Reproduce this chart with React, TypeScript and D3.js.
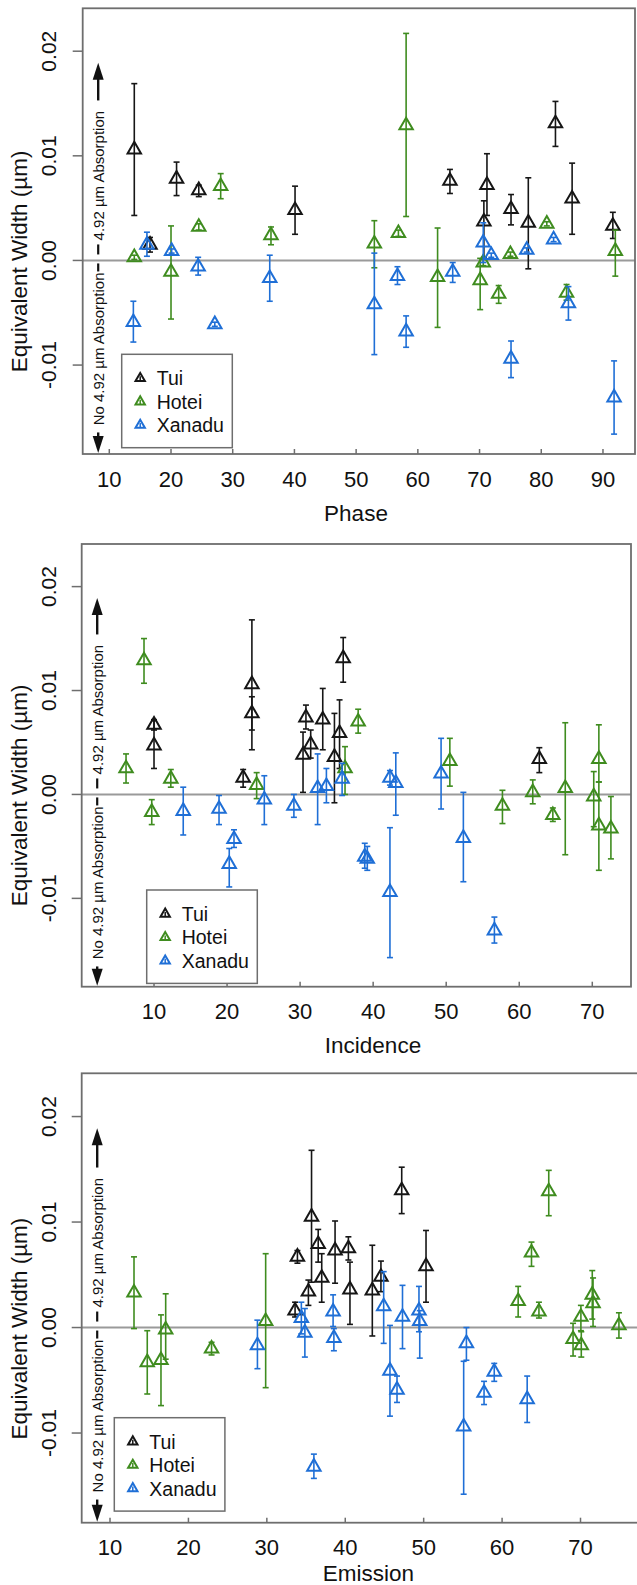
import React from "react"
import * as d3 from "d3"

// [x, equivalent width, lower error, upper error]
type Pt = [number, number, number, number]

const seriesNames = ["Tui", "Hotei", "Xanadu"]
const seriesColors = ["#161616", "#3f8c1f", "#1f6fd6"]

const yTicks = [-0.01, 0, 0.01, 0.02]
const yTickLabels = ["-0.01", "0.00", "0.01", "0.02"]
const phaseTicks = [10, 20, 30, 40, 50, 60, 70, 80, 90]
const incidenceTicks = [10, 20, 30, 40, 50, 60, 70]
const emissionTicks = [10, 20, 30, 40, 50, 60, 70]

const phaseTui: Pt[] = [
  [14.05, 0.0106, 0.0043, 0.0169], [16.6, 0.0015, 0.0008, 0.0022], [20.9, 0.0078, 0.0062, 0.0094],
  [24.5, 0.0067, 0.0061, 0.0072], [40.1, 0.0048, 0.0025, 0.0071], [65.2, 0.0076, 0.0064, 0.0087],
  [70.7, 0.0037, 0.0003, 0.0057], [71.2, 0.0072, 0.0043, 0.0102], [75.1, 0.0049, 0.0034, 0.0063],
  [77.9, 0.0036, -0.0008, 0.0079], [82.3, 0.0131, 0.0109, 0.0152], [85.0, 0.0059, 0.0025, 0.0093],
  [91.6, 0.0033, 0.0021, 0.0046],
]
const phaseHotei: Pt[] = [
  [14.05, 0.0003, 0.0001, 0.0005], [20.0, -0.0011, -0.0056, 0.0033], [24.5, 0.0032, 0.0029, 0.0035],
  [28.05, 0.0071, 0.0059, 0.0083], [36.2, 0.0024, 0.0015, 0.0032], [52.95, 0.0016, -0.0007, 0.0038],
  [56.85, 0.0026, 0.0023, 0.0029], [58.1, 0.0129, 0.0042, 0.0217], [63.2, -0.0016, -0.0064, 0.0031],
  [70.1, -0.0019, -0.0047, 0.0002], [70.6, -0.0002, -0.0005, 0.0001], [73.1, -0.0032, -0.0041, -0.0024],
  [75.0, 0.0006, 0.0004, 0.0008], [80.9, 0.0035, 0.0033, 0.0037], [84.1, -0.0031, -0.0038, -0.0023],
  [92.0, 0.0009, -0.0015, 0.0029],
]
const phaseXanadu: Pt[] = [
  [13.9, -0.0059, -0.0078, -0.0039], [16.1, 0.0015, 0.0004, 0.0027], [20.1, 0.0009, 0.0007, 0.0011],
  [24.4, -0.0006, -0.0014, 0.0003], [27.1, -0.0061, -0.0063, -0.0059], [36.0, -0.0017, -0.0039, 0.0005],
  [52.95, -0.0042, -0.009, 0.0007], [56.7, -0.0015, -0.0023, -0.0006], [58.1, -0.0068, -0.0083, -0.0053],
  [65.65, -0.0011, -0.0021, -0.0002], [70.6, 0.0017, -0.0002, 0.0036], [71.9, 0.0005, 0.0003, 0.0007],
  [75.1, -0.0094, -0.0112, -0.0077], [77.65, 0.001, 0.0008, 0.0012], [82.0, 0.002, 0.0018, 0.0022],
  [84.4, -0.0041, -0.0057, -0.0025], [91.8, -0.0131, -0.0166, -0.0096],
]

const incidenceTui: Pt[] = [
  [10.0, 0.0067, 0.0062, 0.0072], [10.0, 0.0047, 0.0025, 0.0071], [22.2, 0.0016, 0.0007, 0.0024],
  [23.4, 0.0106, 0.0043, 0.0168], [23.4, 0.0078, 0.0062, 0.0094], [30.8, 0.0074, 0.0063, 0.0086],
  [30.4, 0.0038, 0.0002, 0.006], [31.45, 0.0048, 0.0035, 0.0062], [33.1, 0.0072, 0.0043, 0.0102],
  [34.7, 0.0036, -0.0008, 0.0078], [35.4, 0.0059, 0.0025, 0.0091], [35.9, 0.0131, 0.0108, 0.0151],
  [62.75, 0.0034, 0.0021, 0.0045],
]
const incidenceHotei: Pt[] = [
  [6.17, 0.0025, 0.0011, 0.0039], [8.63, 0.0129, 0.0107, 0.015], [9.69, -0.0017, -0.0029, -0.0005],
  [12.3, 0.0015, 0.0007, 0.0024], [24.05, 0.0009, -0.0004, 0.0021], [36.15, 0.0025, 0.0, 0.0046],
  [37.95, 0.007, 0.0059, 0.0082], [50.5, 0.0032, 0.0008, 0.0054], [57.7, -0.0011, -0.0028, 0.0004],
  [61.85, 0.0002, -0.0009, 0.0014], [64.6, -0.002, -0.0026, -0.0013], [66.3, 0.0006, -0.0058, 0.0069],
  [70.2, -0.0002, -0.0031, 0.0022], [70.9, 0.0034, 0.0012, 0.0067], [70.9, -0.003, -0.0073, 0.0012],
  [72.55, -0.0033, -0.0062, -0.0002],
]
const incidenceXanadu: Pt[] = [
  [14.0, -0.0016, -0.0039, 0.0007], [18.9, -0.0014, -0.0029, -0.0001], [20.3, -0.0067, -0.0089, -0.0052],
  [20.95, -0.0043, -0.0051, -0.0034], [25.1, -0.0005, -0.0029, 0.0018], [29.15, -0.0011, -0.0022, 0.0],
  [32.4, 0.0006, -0.0029, 0.0039], [33.6, 0.0008, -0.0008, 0.0025], [35.75, 0.0015, -0.0001, 0.003],
  [38.85, -0.006, -0.0071, -0.0047], [39.2, -0.0062, -0.0073, -0.005], [42.3, 0.0016, 0.0009, 0.0023],
  [42.3, -0.0094, -0.0157, -0.0032], [43.1, 0.0011, -0.002, 0.004], [49.3, 0.002, -0.0014, 0.0054],
  [52.35, -0.0042, -0.0084, 0.0002], [56.6, -0.0131, -0.0143, -0.0118],
]

const emissionTui: Pt[] = [
  [33.6, 0.0016, 0.001, 0.0024], [33.9, 0.0067, 0.0061, 0.0073], [35.3, 0.0034, 0.0021, 0.0045],
  [35.7, 0.0105, 0.0043, 0.0168], [36.55, 0.0079, 0.0062, 0.0093], [37.0, 0.0047, 0.0024, 0.007],
  [38.7, 0.0073, 0.0042, 0.0101], [40.4, 0.0075, 0.0064, 0.0086], [40.6, 0.0036, 0.0003, 0.0062],
  [43.45, 0.0035, -0.0008, 0.0078], [44.55, 0.0048, 0.0034, 0.0063], [47.2, 0.013, 0.0108, 0.0152],
  [50.3, 0.0058, 0.0024, 0.0092],
]
const emissionHotei: Pt[] = [
  [13.06, 0.0033, -0.0001, 0.0067], [14.75, -0.0033, -0.0063, -0.0003], [16.5, -0.0031, -0.0074, 0.0012],
  [17.1, -0.0002, -0.003, 0.0032], [22.95, -0.002, -0.0026, -0.0014], [29.85, 0.0006, -0.0057, 0.007],
  [62.05, 0.0025, 0.001, 0.0039], [63.75, 0.0071, 0.0058, 0.0081], [64.7, 0.0015, 0.0009, 0.0024],
  [65.95, 0.0129, 0.0106, 0.0149], [69.05, -0.0011, -0.0027, 0.0004], [70.05, 0.001, -0.0003, 0.0021],
  [70.1, -0.0017, -0.0028, -0.0004], [71.5, 0.0031, 0.0008, 0.0054], [71.6, 0.0023, 0.0001, 0.0047],
  [74.9, 0.0002, -0.001, 0.0014],
]
const emissionXanadu: Pt[] = [
  [28.8, -0.0017, -0.0039, 0.0007], [34.4, 0.0009, -0.0006, 0.0024], [34.85, -0.0005, -0.0028, 0.0018],
  [36.0, -0.0132, -0.0143, -0.012], [38.45, 0.0015, 0.0001, 0.0031], [38.55, -0.001, -0.0022, -0.0001],
  [44.9, 0.002, -0.0015, 0.0053], [45.7, -0.0041, -0.0084, 0.0002], [46.6, -0.0059, -0.0071, -0.0046],
  [47.3, 0.001, -0.002, 0.004], [49.4, 0.0016, -0.0004, 0.0039], [49.5, 0.0006, -0.0029, 0.0016],
  [55.1, -0.0094, -0.0158, -0.0032], [55.45, -0.0015, -0.0031, 0.0], [57.7, -0.0062, -0.0073, -0.0051],
  [59.0, -0.0042, -0.0051, -0.0034], [63.2, -0.0068, -0.009, -0.0046],
]

const font = "'Liberation Sans', Arial, Helvetica, sans-serif"
const yDomain: [number, number] = [-0.0185, 0.0241]

const panels = [
  {
    label: "Phase", xDomain: [5.69, 95.19], xTicks: phaseTicks,
    left: 82.7, right: 635, top: 8.3, bottom: 454,
    labelX: 356, labelDy: 67, legend: [121.7, 354.3],
    series: [phaseTui, phaseHotei, phaseXanadu],
  },
  {
    label: "Incidence", xDomain: [0.1, 75.3], xTicks: incidenceTicks,
    left: 81.7, right: 631, top: 544, bottom: 986.7,
    labelX: 373, labelDy: 66.6, legend: [146.7, 890],
    series: [incidenceTui, incidenceHotei, incidenceXanadu],
  },
  {
    label: "Emission", xDomain: [6.39, 79.5], xTicks: emissionTicks,
    left: 81.7, right: 655, top: 1073.3, bottom: 1522.7,
    labelX: 368.3, labelDy: 58.3, legend: [114.3, 1417.7],
    series: [emissionTui, emissionHotei, emissionXanadu],
  },
]

const tri = d3.symbol(d3.symbolTriangle, 78)()
const triSmall = d3.symbol(d3.symbolTriangle, 38)()

function Panel({ p }: { p: typeof panels[number] }) {
  const x = d3.scaleLinear().domain(p.xDomain).range([p.left, p.right])
  const y = d3.scaleLinear().domain(yDomain).range([p.bottom, p.top])
  const y0 = y(0)
  const ax = p.left + 15.5
  const yTip = y(0.0189)
  const yBot = y(-0.0184)
  const [lx, ly] = p.legend
  return (
    <g>
      {/* zero line */}
      <line x1={p.left} x2={p.right} y1={y0} y2={y0} stroke="#9a9a9a" strokeWidth={2} />
      {/* data */}
      {p.series.map((pts, si) => (
        <g key={si} stroke={seriesColors[si]} fill="none">
          {pts.map((d, i) => {
            const cx = x(d[0])
            return (
              <g key={i}>
                <line x1={cx} x2={cx} y1={y(d[2])} y2={y(d[3])} strokeWidth={1.6} />
                <line x1={cx - 3} x2={cx + 3} y1={y(d[2])} y2={y(d[2])} strokeWidth={1.6} />
                <line x1={cx - 3} x2={cx + 3} y1={y(d[3])} y2={y(d[3])} strokeWidth={1.6} />
                <path d={tri} transform={`translate(${cx},${y(d[1])})`} strokeWidth={2} />
              </g>
            )
          })}
        </g>
      ))}
      {/* box */}
      <rect x={p.left} y={p.top} width={p.right - p.left} height={p.bottom - p.top}
        fill="none" stroke="#6e6e6e" strokeWidth={1.8} />
      {/* x axis */}
      {p.xTicks.map(t => (
        <g key={t}>
          <line x1={x(t)} x2={x(t)} y1={p.bottom} y2={p.bottom - 5} stroke="#6e6e6e" strokeWidth={1.5} />
          <text x={x(t)} y={p.bottom + 32.5} textAnchor="middle" fontSize={22} fill="#111">{t}</text>
        </g>
      ))}
      <text x={p.labelX} y={p.bottom + p.labelDy} textAnchor="middle" fontSize={22.5} fill="#111">{p.label}</text>
      {/* y axis */}
      {yTicks.map((t, i) => (
        <g key={t}>
          <line x1={p.left} x2={p.left - 10} y1={y(t)} y2={y(t)} stroke="#6e6e6e" strokeWidth={1.5} />
          <text transform={`translate(56,${y(t)}) rotate(-90)`} textAnchor="middle" fontSize={21}
            fill="#111">{yTickLabels[i]}</text>
        </g>
      ))}
      <text transform={`translate(26.5,${y0 + 1}) rotate(-90)`} textAnchor="middle" fontSize={22.5}
        fill="#111">Equivalent Width (µm)</text>
      {/* absorption annotation */}
      <g stroke="#111" fill="#111">
        <line x1={ax} x2={ax} y1={y0 - 160} y2={yTip + 12} strokeWidth={2.4} />
        <path d={`M${ax},${yTip} L${ax - 5.5},${yTip + 17} L${ax + 5.5},${yTip + 17} Z`} stroke="none" />
        <line x1={ax} x2={ax} y1={y0 - 16} y2={y0 - 6} strokeWidth={2.2} />
        <line x1={ax} x2={ax} y1={y0 + 3} y2={y0 + 11} strokeWidth={2.2} />
        <line x1={ax} x2={ax} y1={y0 + 172} y2={yBot - 12} strokeWidth={2.4} />
        <path d={`M${ax},${yBot} L${ax - 5.5},${yBot - 17} L${ax + 5.5},${yBot - 17} Z`} stroke="none" />
      </g>
      <text transform={`translate(${ax + 5.4},${y0 - 20}) rotate(-90)`} textAnchor="start" fontSize={15}
        fill="#111">4.92 µm Absorption</text>
      <text transform={`translate(${ax + 5.4},${y0 + 12}) rotate(-90)`} textAnchor="end" fontSize={15}
        fill="#111">No 4.92 µm Absorption</text>
      {/* legend */}
      <rect x={lx} y={ly} width={110.6} height={93.4} fill="#fff" stroke="#6e6e6e" strokeWidth={1.5} />
      {seriesNames.map((name, i) => {
        const cy = ly + 24 + i * 23.4
        return (
          <g key={name}>
            <path d={triSmall} transform={`translate(${lx + 18.5},${cy})`} fill="none"
              stroke={seriesColors[i]} strokeWidth={2} />
            <line x1={lx + 18.5} x2={lx + 18.5} y1={cy - 2} y2={cy + 2.5} stroke={seriesColors[i]} strokeWidth={1.5} />
            <text x={lx + 35} y={cy + 7} fontSize={19.5} fill="#111">{name}</text>
          </g>
        )
      })}
    </g>
  )
}

export default function App() {
  return (
    <svg width={637} height={1585} fontFamily={font}
      style={{ position: "absolute", left: 0, top: 0, display: "block", background: "#fff" }}>
      <rect width={637} height={1585} fill="#fff" />
      {panels.map(p => <Panel key={p.label} p={p} />)}
    </svg>
  )
}
